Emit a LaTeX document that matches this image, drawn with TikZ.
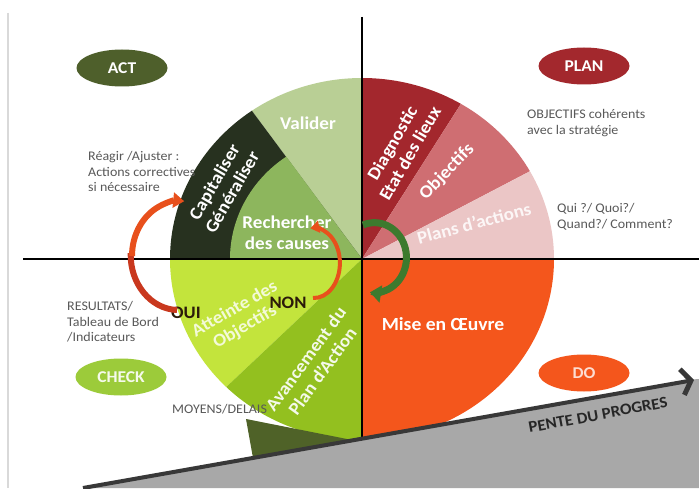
\documentclass[tikz,border=0pt]{standalone}
\usepackage{fontspec}
\setmainfont{Carlito}[FakeStretch=1.06]
\usetikzlibrary{arrows.meta,shapes.geometric}
\definecolor{cValider}{HTML}{B9CF95}
\definecolor{cCapital}{HTML}{27311F}
\definecolor{cRecherche}{HTML}{8DB65D}
\definecolor{cDiag}{HTML}{A3272D}
\definecolor{cObj}{HTML}{CF6E72}
\definecolor{cPlans}{HTML}{EBC6C6}
\definecolor{cDo}{HTML}{F4561C}
\definecolor{cAtteinte}{HTML}{C3E43C}
\definecolor{cAvance}{HTML}{93C01F}
\definecolor{cAct}{HTML}{4E5F2B}
\definecolor{cPlan}{HTML}{A3282D}
\definecolor{cCheck}{HTML}{9CCB3A}
\definecolor{cWedge}{HTML}{4F6228}
\definecolor{cSlope}{HTML}{A8A8A8}
\definecolor{cLine}{HTML}{383838}
\definecolor{cTxt}{HTML}{595959}
\definecolor{cArrowG}{HTML}{3D7A2E}
\definecolor{cArrowO}{HTML}{E8501C}
\definecolor{cArrowR}{HTML}{C9381E}
\definecolor{cDark}{HTML}{2B1A0A}
\tikzset{
  graytxt/.style={font=\fontsize{13.2}{15.5}\selectfont, text=cTxt, align=left, anchor=west, inner sep=0pt},
  wheeltxt/.style={font=\bfseries\fontsize{18}{20.5}\selectfont, text=white, align=center, inner sep=0pt},
  phase/.style={ellipse, minimum width=91pt, minimum height=37pt, inner sep=0pt,
                font=\bfseries\fontsize{16.5}{19}\selectfont},
  answer/.style={font=\bfseries\fontsize{17.5}{19}\selectfont, text=cDark, inner sep=0pt},
  axis/.style={line width=1.6pt, black},
}
\begin{document}
\begin{tikzpicture}[x=1pt,y=1pt]
\useasboundingbox (0,0) rectangle (699,488);
\fill[white] (0,0) rectangle (699,488);
\draw[line width=1.5pt, gray!30] (8,475) -- (8,0);

\coordinate (C) at (362,229);
% ACT quadrant
\fill[cValider] (C) -- ++(90:192pt and 181pt) arc[start angle=90, end angle=125, x radius=192pt, y radius=181pt] -- cycle;
\fill[cCapital] (C) -- ++(125:192pt and 181pt) arc[start angle=125, end angle=180, x radius=192pt, y radius=181pt] -- cycle;
\fill[cRecherche] (C) -- ++(125:132pt and 125pt) arc[start angle=125, end angle=180, x radius=132pt, y radius=125pt] -- cycle;
% PLAN quadrant
\fill[cDiag] (C) -- ++(90:192pt and 181pt) arc[start angle=90, end angle=59, x radius=192pt, y radius=181pt] -- cycle;
\fill[cObj] (C) -- ++(59:192pt and 181pt) arc[start angle=59, end angle=29, x radius=192pt, y radius=181pt] -- cycle;
\fill[cPlans] (C) -- ++(29:192pt and 181pt) arc[start angle=29, end angle=0, x radius=192pt, y radius=181pt] -- cycle;
% DO quadrant
\fill[cDo] (C) -- ++(0:192pt and 181pt) arc[start angle=0, end angle=-90, x radius=192pt, y radius=181pt] -- cycle;
% CHECK quadrant
\fill[cAtteinte] (C) -- ++(180:192pt and 181pt) arc[start angle=180, end angle=225, x radius=192pt, y radius=181pt] -- cycle;
\fill[cAvance] (C) -- ++(225:192pt and 181pt) arc[start angle=225, end angle=270, x radius=192pt, y radius=181pt] -- cycle;

% axes
\coordinate (axL) at (23,229);
\coordinate (axR) at (699,229);
\coordinate (axT) at (362,471);
\coordinate (axB) at (362,48);
\draw[axis] (axL) -- (axR);
\draw[axis] (axT) -- (axB);

% wedge and slope
\fill[cWedge] (246,69) -- (352,48) -- (253,30) -- cycle;
\fill[cSlope] (83,0) -- (697,109) -- (699,109) -- (699,0) -- cycle;
\coordinate (slA) at (83,0);
\coordinate (slB) at (694,108);
\draw[line width=4pt, cLine, -{Straight Barb[length=9pt, width=26pt, line width=5pt]}] (slA) -- (slB);
\node[rotate=10.5, font=\bfseries\fontsize{16}{18}\selectfont, text=black!85, inner sep=0pt] (pente) at (598,73) {PENTE DU PROGRES};

% wheel texts
\node[wheeltxt] (valider) at (308,365) {Valider};
\node[wheeltxt, rotate=60] (capit) at (223,301) {Capitaliser\\Généraliser};
\node[wheeltxt] (recher) at (287,255) {Rechercher\\des causes};
\node[wheeltxt, rotate=60] (diag) at (401,340) {Diagnostic\\Etat des lieux};
\node[wheeltxt, rotate=46] (objs) at (447,316) {Objectifs};
\node[wheeltxt, rotate=15, text=white!85!cPlans] (plans) at (474,265) {Plans d'actions};
\node[wheeltxt, font=\bfseries\fontsize{18.5}{20}\selectfont] (mise) at (443,164) {Mise en Œuvre};
\node[wheeltxt, rotate=30, text=white!80!cAtteinte] (atteinte) at (240,170) {Atteinte des\\Objectifs};
\node[wheeltxt, rotate=54, text=white!90!cAvance] (avance) at (314,123) {Avancement du\\Plan d'Action};

% answers
\node[answer] (oui) at (186,175) {OUI};
\node[answer] (non) at (288,185) {NON};

% arrows
\coordinate (a1s) at (177,178);
\coordinate (a1m) at (132,232);
\draw[line width=6pt, cArrowR] (a1s) arc[start angle=268, end angle=178, x radius=48pt, y radius=55pt];
\draw[line width=6pt, cArrowO, -{Triangle[length=11pt, width=15pt]}] (a1m) arc[start angle=180, end angle=85, x radius=48pt, y radius=55pt];
\coordinate (a2s) at (313,190);
\draw[line width=4pt, cArrowO, -{Triangle[length=9pt, width=12pt]}] (a2s) arc[start angle=-92, end angle=98, x radius=26pt, y radius=35pt];
\coordinate (a3s) at (363,263);
\draw[line width=7pt, cArrowG, -{Triangle[length=11pt, width=17pt]}] (a3s) arc[start angle=111, end angle=-98, x radius=32pt, y radius=35pt];

% phase ellipses
\node[phase, fill=cAct, text=white] (act) at (122,420) {ACT};
\node[phase, fill=cPlan, text=white] (plan) at (584,422) {PLAN};
\node[phase, fill=cCheck, text=white!90!cCheck] (check) at (121,111) {CHECK};
\node[phase, fill=cDo, text=white!80!cDo] (do) at (584,115) {DO};

% gray texts
\node[graytxt] (reagir) at (88,316.5) {Réagir /Ajuster :\\Actions correctives\\si nécessaire};
\node[graytxt] (objcoh) at (527,365) {OBJECTIFS cohérents\\avec la stratégie};
\node[graytxt] (qui) at (557,271) {Qui ?/ Quoi?/\\Quand?/ Comment?};
\node[graytxt] (result) at (67,166) {RESULTATS/\\Tableau de Bord\\/Indicateurs};
\node[graytxt] (moyens) at (172,79) {MOYENS/DELAIS};
\end{tikzpicture}
\end{document}
